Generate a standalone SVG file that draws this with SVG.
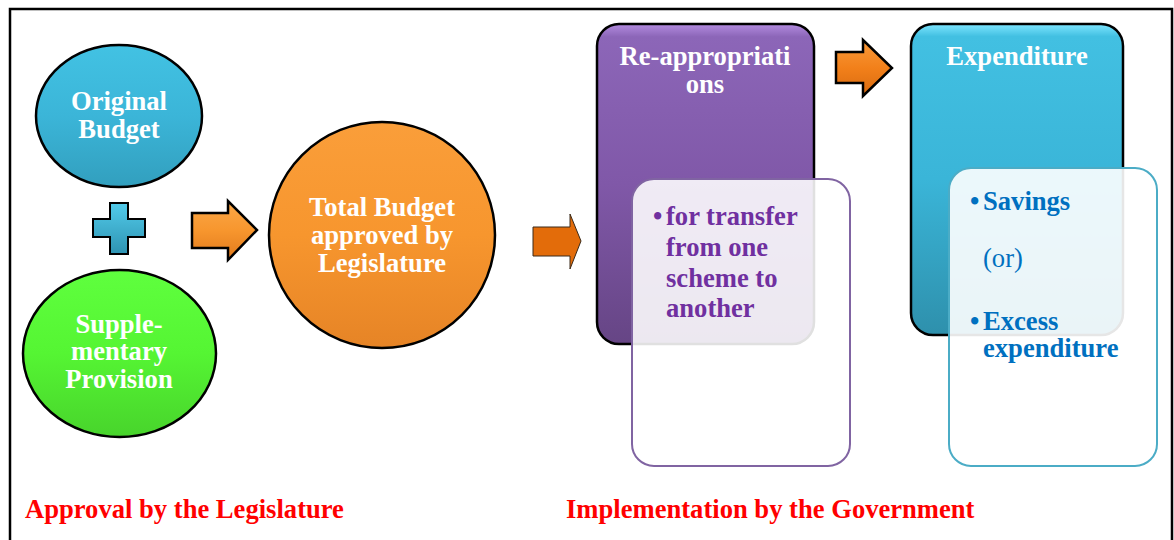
<svg xmlns="http://www.w3.org/2000/svg" width="1174" height="540" viewBox="0 0 1174 540">
<style>
.t{font-family:"Liberation Serif","Times New Roman",serif;font-weight:bold;font-size:26.6px}
.w{fill:#ffffff}
.c{text-anchor:middle}
.pu{fill:#7030A0}
.bl{fill:#0070C0}
.red{fill:#FF0000}
.edge{stroke:#000;stroke-width:2.5}
</style>
<defs>
<linearGradient id="gBlue" x1="0" y1="0" x2="0" y2="1">
<stop offset="0" stop-color="#42C2E3"/><stop offset="0.5" stop-color="#3BB5D8"/><stop offset="1" stop-color="#329FBE"/>
</linearGradient>
<linearGradient id="gGreen" x1="0" y1="0" x2="0" y2="1">
<stop offset="0" stop-color="#5FFF3E"/><stop offset="0.5" stop-color="#55F533"/><stop offset="1" stop-color="#48D42C"/>
</linearGradient>
<linearGradient id="gOrange" x1="0" y1="0" x2="0" y2="1">
<stop offset="0" stop-color="#FA9E3A"/><stop offset="0.5" stop-color="#F7962E"/><stop offset="1" stop-color="#E68426"/>
</linearGradient>
<linearGradient id="gPurple" x1="0" y1="0" x2="0" y2="1">
<stop offset="0" stop-color="#B38CE0"/><stop offset="0.04" stop-color="#8C66B8"/><stop offset="0.5" stop-color="#8058A8"/><stop offset="1" stop-color="#664585"/>
</linearGradient>
<linearGradient id="gCyan" x1="0" y1="0" x2="0" y2="1">
<stop offset="0" stop-color="#7FE6FF"/><stop offset="0.04" stop-color="#42C0E2"/><stop offset="0.5" stop-color="#3AB5D8"/><stop offset="1" stop-color="#2E90AC"/>
</linearGradient>
<linearGradient id="gArrow" x1="0" y1="0" x2="0" y2="1">
<stop offset="0" stop-color="#FBA848"/><stop offset="0.5" stop-color="#F7962E"/><stop offset="1" stop-color="#E17A1C"/>
</linearGradient>
<linearGradient id="gArrow3" x1="0" y1="0" x2="0" y2="1">
<stop offset="0" stop-color="#F99A3A"/><stop offset="0.5" stop-color="#F2801A"/><stop offset="1" stop-color="#D86A10"/>
</linearGradient>
<linearGradient id="gPlus" x1="0" y1="0" x2="0" y2="1">
<stop offset="0" stop-color="#52CBEA"/><stop offset="1" stop-color="#2E93B2"/>
</linearGradient>
</defs>
<rect width="1174" height="540" fill="#ffffff"/>
<path d="M10,540 V9 H1172 V540" fill="none" stroke="#000" stroke-width="2.5"/>

<g id="original-budget">
<ellipse cx="119" cy="116" rx="83" ry="71" fill="url(#gBlue)" class="edge"/>
<text class="t w c" x="119" y="110">Original</text>
<text class="t w c" x="119" y="138">Budget</text>
</g>

<g id="plus">
<polygon points="110,203 128,203 128,219 145,219 145,237 128,237 128,254 110,254 110,237 93,237 93,219 110,219" fill="url(#gPlus)" stroke="#000" stroke-width="2"/>
</g>

<g id="supplementary-provision">
<ellipse cx="119.5" cy="353.5" rx="96.5" ry="83.5" fill="url(#gGreen)" class="edge"/>
<text class="t w c" x="119" y="333">Supple-</text>
<text class="t w c" x="119" y="360">mentary</text>
<text class="t w c" x="119" y="388">Provision</text>
</g>

<g id="total-budget">
<circle cx="382" cy="235" r="113" fill="url(#gOrange)" class="edge"/>
<text class="t w c" x="382" y="216">Total Budget</text>
<text class="t w c" x="382" y="244">approved by</text>
<text class="t w c" x="382" y="272">Legislature</text>
</g>

<g id="reappropriations">
<rect x="597" y="24" width="217" height="320" rx="22" fill="url(#gPurple)" class="edge"/>
<text class="t w c" x="705" y="65">Re-appropriati</text>
<text class="t w c" x="705" y="93">ons</text>
</g>

<g id="reappropriations-detail">
<rect x="632" y="179" width="218" height="287" rx="22" fill="#ffffff" fill-opacity="0.88" stroke="#8064A2" stroke-width="2"/>
<text class="t pu" x="653" y="225" font-size="22">•</text>
<text class="t pu" x="666" y="225">for transfer</text>
<text class="t pu" x="666" y="256">from one</text>
<text class="t pu" x="666" y="287">scheme to</text>
<text class="t pu" x="666" y="317">another</text>
</g>

<g id="expenditure">
<rect x="911" y="24" width="212" height="311" rx="22" fill="url(#gCyan)" class="edge"/>
<text class="t w c" x="1017" y="65">Expenditure</text>
</g>

<g id="expenditure-detail">
<rect x="949" y="168" width="208" height="298" rx="22" fill="#ffffff" fill-opacity="0.9" stroke="#4BACC6" stroke-width="2"/>
<text class="t bl" x="970" y="210">•</text>
<text class="t bl" x="983" y="210">Savings</text>
<text class="bl" x="983" y="267" font-family="Liberation Serif, Times New Roman, serif" font-size="26.6">(or)</text>
<text class="t bl" x="970" y="330">•</text>
<text class="t bl" x="983" y="330">Excess</text>
<text class="t bl" x="983" y="357">expenditure</text>
</g>

<g id="connectors">
<polygon points="192,213 228,213 228,201 257,230 228,260 228,248 192,248" fill="url(#gArrow)" stroke="#000" stroke-width="2.5" stroke-linejoin="miter"/>
<polygon points="533,227 570,227 570,214 581,241 570,269 570,256 533,256" fill="#E36C0A" stroke="#3a2a1a" stroke-width="1"/>
<polygon points="836,52 863,52 863,40 892,68 863,96 863,83 836,83" fill="url(#gArrow3)" stroke="#000" stroke-width="2.5"/>
</g>

<g id="labels">
<text class="t red" x="25" y="518">Approval by the Legislature</text>
<text class="t red" x="566" y="518">Implementation by the Government</text>
</g>
</svg>
